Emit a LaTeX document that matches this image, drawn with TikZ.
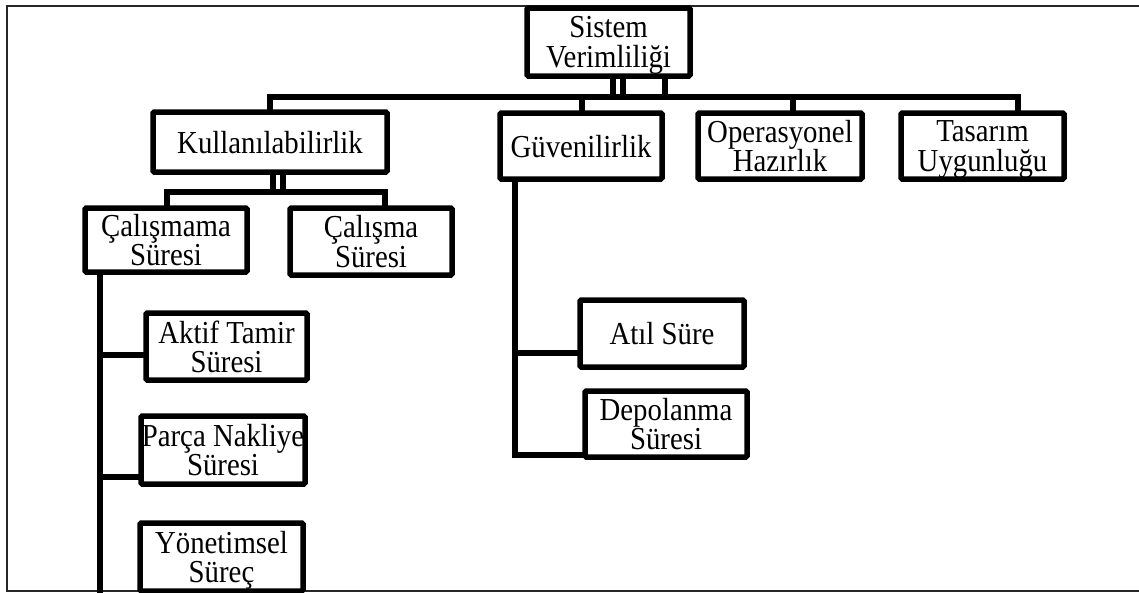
\documentclass[tikz,border=0pt]{standalone}
\usepackage{fontspec}
\setmainfont{Liberation Serif}[FakeStretch=0.9]
\begin{document}
\begin{tikzpicture}[x=1pt,y=-1pt,
  box/.style={draw, line width=5.5pt, rounded corners=1.2pt, align=center,
    inner sep=0pt, text depth=0pt, font=\fontsize{32}{29.5}\selectfont},
  link/.style={line width=5.5pt, line cap=rect},
  frame/.style={line width=2pt, draw=black!85}]
\useasboundingbox (0,0) rectangle (1139,592);
% outer frame (top, left, bottom)
\draw[frame] (1139,6) -- (7,6) -- (7,591) -- (1139,591);

% boxes
\node[box, minimum width=163pt, minimum height=68pt] (sys) at (608.5,42) {Sistem\\Verimliliği};
\node[box, minimum width=234pt, minimum height=60pt] (kul) at (270,142) {Kullanılabilirlik};
\node[box, minimum width=162pt, minimum height=66pt] (guv) at (581,146) {Güvenilirlik};
\node[box, minimum width=164pt, minimum height=66pt] (ops) at (780,146) {Operasyonel\\Hazırlık};
\node[box, minimum width=163pt, minimum height=66pt] (tas) at (982.5,146) {Tasarım\\Uygunluğu};
\node[box, minimum width=162pt, minimum height=64pt] (cmm) at (166,240) {Çalışmama\\Süresi};
\node[box, minimum width=162pt, minimum height=67pt] (cal) at (371,241.5) {Çalışma\\Süresi};
\node[box, minimum width=161pt, minimum height=67pt] (akt) at (226.5,346.5) {Aktif Tamir\\Süresi};
\node[box, minimum width=164pt, minimum height=68pt] (par) at (223,450) {Parça Nakliye\\Süresi};
\node[box, minimum width=163pt, minimum height=68pt] (yon) at (221.5,557) {Yönetimsel\\Süreç};
\node[box, minimum width=164pt, minimum height=67pt] (atl) at (662,333.5) {Atıl Süre};
\node[box, minimum width=162pt, minimum height=66pt] (dep) at (666,424) {Depolanma\\Süresi};

% top-level bus
\coordinate (busL) at (270,97);
\coordinate (busR) at (1018,97);
\coordinate (opsTap) at (793,97);
\coordinate (guvTap) at (582,97);
\draw[link] (busL) -- (busR);
\draw[link] ([xshift=4.5pt]sys.south) -- ([xshift=4.5pt]sys.south |- busL);
\draw[link] ([xshift=14.5pt]sys.south) -- ([xshift=14.5pt]sys.south |- busL);
\draw[link] ([xshift=56.5pt]sys.south) -- ([xshift=56.5pt]sys.south |- busL);
\draw[link] (busL) -- (busL |- kul.north);
\draw[link] (guvTap) -- (guvTap |- guv.north);
\draw[link] (opsTap) -- (opsTap |- ops.north);
\draw[link] (busR) -- (busR |- tas.north);

% availability branch
\coordinate (kbL) at (167,192);
\coordinate (kbR) at (385,192);
\draw[link] (kbL) -- (kbR);
\draw[link] ([xshift=3pt]kul.south) -- ([xshift=3pt]kul.south |- kbL);
\draw[link] ([xshift=13pt]kul.south) -- ([xshift=13pt]kul.south |- kbL);
\draw[link] (kbL) -- (kbL |- cmm.north);
\draw[link] (kbR) -- (kbR |- cal.north);

% downtime spine
\coordinate (dsTop) at (100,275);
\coordinate (dsBot) at (100,600);
\coordinate (dsA) at (100,355);
\coordinate (dsP) at (100,477);
\draw[link] (dsTop) -- (dsBot);
\draw[link] (dsA) -- (dsA -| akt.west);
\draw[link] (dsP) -- (dsP -| par.west);

% reliability spine
\coordinate (rsTop) at (515,182);
\coordinate (rsA) at (515,353);
\coordinate (rsD) at (515,455);
\draw[link] (rsTop) -- (rsD) -- (rsD -| dep.west);
\draw[link] (rsA) -- (rsA -| atl.west);
\end{tikzpicture}
\end{document}
